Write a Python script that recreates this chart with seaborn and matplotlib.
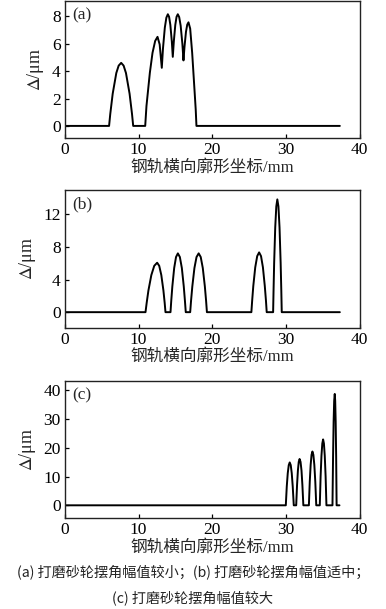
import matplotlib
matplotlib.use('Agg')
import matplotlib.pyplot as plt
import seaborn as sns

# (a) small swing amplitude
x_a = [0, 6.0, 6.16, 6.49, 6.98, 7.3, 7.64, 7.97, 8.29, 8.78, 9.11, 9.27,
       10.9, 11.07, 11.53, 11.89, 12.25, 12.57, 12.86, 13.15,
       13.31, 13.56, 13.77, 13.97, 14.14, 14.31, 14.51, 14.64,
       14.78, 14.98, 15.15, 15.32, 15.51, 15.71, 15.94, 16.09,
       16.23, 16.43, 16.6, 16.77, 17.0, 17.27, 17.58, 17.75, 17.85, 37.3]
y_a = [0, 0, 0.87, 2.35, 3.86, 4.4, 4.6, 4.4, 3.86, 2.35, 0.87, 0,
       0, 1.45, 3.88, 5.33, 6.2, 6.5, 5.95, 4.24,
       5.65, 7.17, 7.9, 8.15, 7.96, 7.37, 6.16, 5.04,
       6.16, 7.37, 7.96, 8.15, 7.94, 7.31, 6.0, 4.78,
       5.78, 6.87, 7.39, 7.56, 7.1, 5.33, 2.67, 1.2, 0, 0]

# (b) moderate swing amplitude
x_b = [0, 10.94, 11.10, 11.335, 11.73, 12.125, 12.52, 12.80, 13.085, 13.37, 13.54, 13.65,
       14.33, 14.43, 14.58, 14.83, 15.08, 15.33, 15.6, 15.87, 16.13, 16.29, 16.4,
       17.0, 17.115, 17.29, 17.575, 17.86, 18.15, 18.43, 18.71, 18.99, 19.16, 19.27,
       25.3, 25.405, 25.56, 25.825, 26.09, 26.35, 26.61, 26.865, 27.12, 27.28, 27.38,
       28.25, 28.307, 28.39, 28.535, 28.68, 28.82, 28.97, 29.12, 29.27, 29.36, 29.42,
       37.3]
y_b = [0, 0, 1.15, 2.66, 4.55, 5.69, 6.07, 5.69, 4.55, 2.66, 1.15, 0,
       0, 1.37, 3.16, 5.42, 6.77, 7.22, 6.77, 5.42, 3.16, 1.37, 0,
       0, 1.37, 3.16, 5.42, 6.77, 7.22, 6.77, 5.42, 3.16, 1.37, 0,
       0, 1.39, 3.21, 5.51, 6.88, 7.34, 6.88, 5.51, 3.21, 1.39, 0,
       0, 2.63, 6.06, 10.39, 12.98, 13.85, 12.98, 10.39, 6.06, 2.63, 0,
       0]

# (c) large swing amplitude
x_c = [0, 29.97, 30.1, 30.235, 30.37, 30.5, 30.64, 30.775, 30.91, 31.05,
       31.38, 31.495, 31.61, 31.725, 31.84, 31.97, 32.1, 32.22, 32.35,
       33.1, 33.22, 33.34, 33.46, 33.58, 33.71, 33.84, 33.97, 34.1,
       34.58, 34.69, 34.805, 34.92, 35.03, 35.14, 35.255, 35.37, 35.48,
       36.3, 36.38, 36.455, 36.53, 36.61, 36.67, 36.735, 36.8, 36.86, 37.25]
y_c = [0, 0, 6.52, 11.18, 13.97, 14.9, 13.97, 11.18, 6.52, 0,
       0, 7.04, 12.08, 15.09, 16.1, 15.09, 12.08, 7.04, 0,
       0, 8.18, 14.03, 17.53, 18.7, 17.53, 14.03, 8.18, 0,
       0, 10.02, 17.18, 21.47, 22.9, 21.47, 17.18, 10.02, 0,
       0, 16.93, 29.03, 36.28, 38.7, 36.28, 29.03, 16.93, 0, 0]

panel_tags = ['(a)', '(b)', '(c)']
x_ticks = [0, 10, 20, 30, 40]
y_ticks = [[0, 2, 4, 6, 8], [0, 4, 8, 12], [0, 10, 20, 30, 40]]
y_lims = [(-0.9, 9.1), (-1.9, 15.0), (-4.5, 43.2)]
xlabel = '钢轨横向廓形坐标/mm'
caption1 = '(a) 打磨砂轮摆角幅值较小；(b) 打磨砂轮摆角幅值适中；'
caption2 = '(c) 打磨砂轮摆角幅值较大'

sns.set_theme(style='ticks')
plt.rcParams['font.family'] = ['Liberation Serif', 'Noto Sans CJK SC']
plt.rcParams['mathtext.fontset'] = 'stix'
plt.rcParams['axes.linewidth'] = 1.0
plt.rcParams['xtick.direction'] = 'in'
plt.rcParams['ytick.direction'] = 'in'

fig = plt.figure(figsize=(3.86, 6.09), dpi=100)
positions = [[0.168, 0.773, 0.764, 0.225],
             [0.168, 0.462, 0.764, 0.226],
             [0.168, 0.149, 0.764, 0.2254]]
data = [(x_a, y_a), (x_b, y_b), (x_c, y_c)]

for i, (xs, ys) in enumerate(data):
    ax = fig.add_axes(positions[i])
    sns.lineplot(x=xs, y=ys, ax=ax, color='black', linewidth=1.4,
                 estimator=None, sort=False)
    ax.set_xlim(0, 40)
    ax.set_ylim(*y_lims[i])
    ax.set_xticks(x_ticks)
    ax.set_yticks(y_ticks[i])
    ax.tick_params(labelsize=12.5, length=3, width=0.9, colors='black', pad=3)
    for s in ax.spines.values():
        s.set_color('#222222')
    ax.set_xlabel(xlabel, fontsize=12, labelpad=1, fontweight='medium')
    ax.set_ylabel(r'$\mathit{\Delta}$/μm', fontsize=13, labelpad=4)
    ax.text(0.024, 0.955, panel_tags[i], transform=ax.transAxes,
            fontsize=12.5, va='top', ha='left')

fig.text(0.5, 1 - 572 / 609, caption1, ha='center', va='center',
         fontsize=10.2, family=['Noto Sans CJK SC'], color='#222222')
fig.text(0.5, 1 - 598 / 609, caption2, ha='center', va='center',
         fontsize=10.2, family=['Noto Sans CJK SC'], color='#222222')

fig.savefig('out.png', dpi=100)
